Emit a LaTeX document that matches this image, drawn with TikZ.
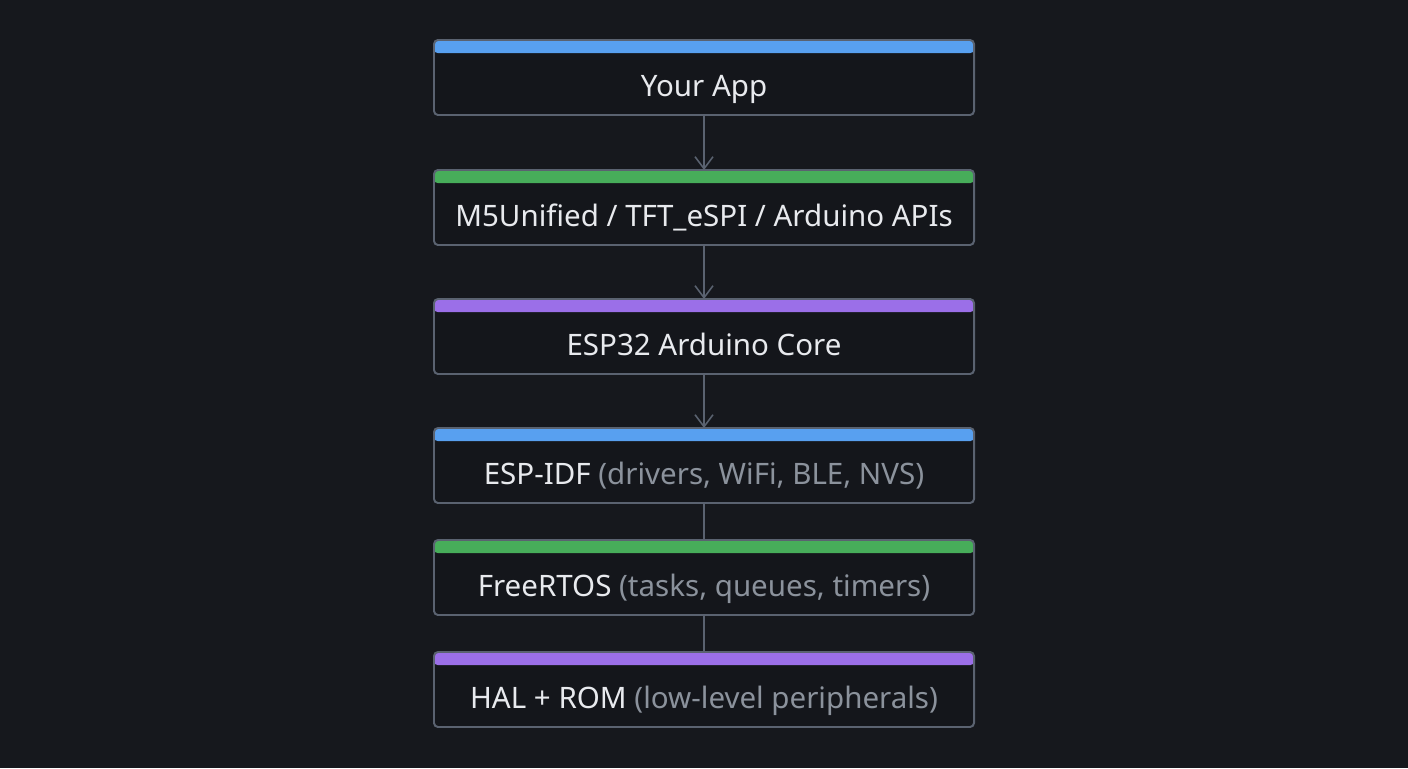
\documentclass[tikz,border=0pt]{standalone}
\usepackage{fontspec}
\setmainfont{Noto Sans}
\usetikzlibrary{positioning,arrows.meta}

\definecolor{bgdark}{HTML}{16181D}
\definecolor{boxfill}{HTML}{14161B}
\definecolor{boxline}{HTML}{5A6270}
\definecolor{textlight}{HTML}{E8EAEE}
\definecolor{textgray}{HTML}{8B929C}
\definecolor{barblue}{HTML}{58A0F0}
\definecolor{bargreen}{HTML}{47AD5A}
\definecolor{barpurple}{HTML}{9B6FE8}

\tikzset{
  layer/.style={draw=boxline, line width=1.4pt, fill=boxfill, rounded corners=0.1cm,
    minimum width=13.5cm, minimum height=1.875cm, inner sep=0pt, outer sep=0pt,
    text=textlight, font=\fontsize{21}{25}\selectfont,
    text height=1.1cm, text depth=0.17cm,
    path picture={\fill[#1] (path picture bounding box.north west)
      rectangle ([yshift=-0.33cm]path picture bounding box.north east);}},
  link/.style={draw=boxline, line width=1.1pt},
}

\begin{document}
\begin{tikzpicture}
        % Background
        \fill[bgdark] (0,0) rectangle (35.2,-19.2);
        \useasboundingbox (0,0) rectangle (35.2,-19.2);

        % Layers
        \node[layer=barblue] (app) at (17.6,-1.9375) {Your App};
        \node[layer=bargreen, below=1.375cm of app] (apis) {M5Unified / TFT\_eSPI / Arduino APIs};
        \node[layer=barpurple, below=1.35cm of apis] (core) {ESP32 Arduino Core};
        \node[layer=barblue, below=1.35cm of core] (idf) {ESP-IDF {\color{textgray}(drivers, WiFi, BLE, NVS)}};
        \node[layer=bargreen, below=0.925cm of idf] (rtos) {FreeRTOS {\color{textgray}(tasks, queues, timers)}};
        \node[layer=barpurple, below=0.925cm of rtos] (hal) {HAL + ROM {\color{textgray}(low-level peripherals)}};

        % Connectors
        \draw[link, -{Straight Barb[length=0.3cm, width=0.45cm]}] (app) -- (apis);
        \draw[link, -{Straight Barb[length=0.3cm, width=0.45cm]}] (apis) -- (core);
        \draw[link, -{Straight Barb[length=0.3cm, width=0.45cm]}] (core) -- (idf);
        \draw[link] (idf) -- (rtos);
        \draw[link] (rtos) -- (hal);
\end{tikzpicture}
\end{document}
